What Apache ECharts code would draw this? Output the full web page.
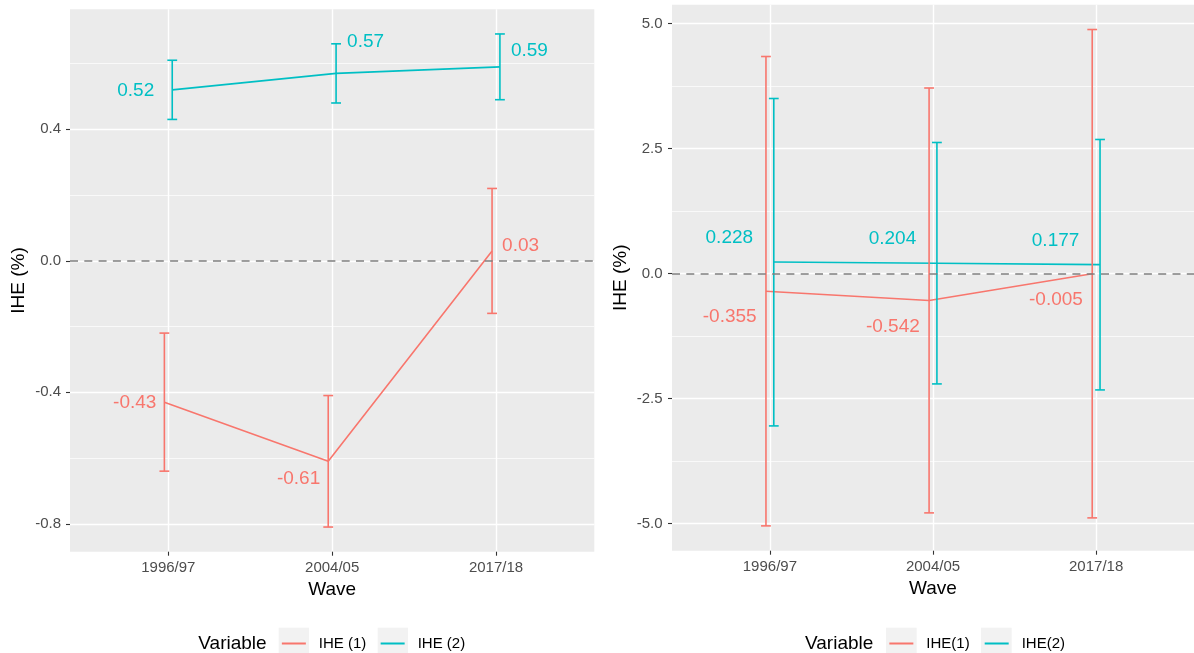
<!DOCTYPE html>
<html>
<head>
<meta charset="utf-8">
<script src="https://cdn.jsdelivr.net/npm/echarts@6/dist/echarts.min.js"></script>
<style>
html,body{margin:0;padding:0;background:#fff;}
#chart{width:1194px;height:653px;}
</style>
</head>
<body>
<div id="chart"></div>
<script>
// ---------- data ----------
const waves = ['1996/97', '2004/05', '2017/18'];

// left panel
const leftIHE1Mean = [-0.43, -0.61, 0.03];
const leftIHE1Lo   = [-0.64, -0.81, -0.16];
const leftIHE1Hi   = [-0.22, -0.41, 0.22];
const leftIHE2Mean = [0.52, 0.57, 0.59];
const leftIHE2Lo   = [0.43, 0.48, 0.49];
const leftIHE2Hi   = [0.61, 0.66, 0.69];
const leftYTicks   = [-0.8, -0.4, 0.0, 0.4];
const leftYMinor   = [-0.6, -0.2, 0.2, 0.6];

// right panel
const rightIHE1Mean = [-0.355, -0.542, -0.005];
const rightIHE1Lo   = [-5.05, -4.79, -4.89];
const rightIHE1Hi   = [4.34, 3.71, 4.88];
const rightIHE2Mean = [0.228, 0.204, 0.177];
const rightIHE2Lo   = [-3.05, -2.21, -2.33];
const rightIHE2Hi   = [3.50, 2.62, 2.68];
const rightYTicks   = [-5.0, -2.5, 0.0, 2.5, 5.0];
const rightYMinor   = [-3.75, -1.25, 1.25, 3.75];

const xTicks = [1, 2, 3];

// ---------- style ----------
const RED = '#F8766D', TEAL = '#00BFC4';
const FONT = "'Liberation Sans', Arial, sans-serif";
const DODGE = 0.024, CAP = 0.03;
const LW = 1.6;

// label placement (pixel offsets from the mean point)
const leftIHE1Lab = [{a:'right',dx:-8,dy:1},{a:'right',dx:-8,dy:17.6},{a:'left',dx:10,dy:-5.4}];
const leftIHE2Lab = [{a:'right',dx:-18,dy:1},{a:'left',dx:11,dy:-31.6},{a:'left',dx:11,dy:-15.6}];
const rightIHE1Lab = [{a:'right',dx:-9.3,dy:26},{a:'right',dx:-9.3,dy:26},{a:'right',dx:-9.3,dy:26}];
const rightIHE2Lab = [{a:'right',dx:-20.7,dy:-24},{a:'right',dx:-20.7,dy:-24},{a:'right',dx:-20.7,dy:-24}];

function expandRange(lo, hi) {
  const mn = Math.min.apply(null, lo), mx = Math.max.apply(null, hi);
  const r = mx - mn;
  return [mn - 0.05 * r, mx + 0.05 * r];
}
const leftRange = expandRange(leftIHE1Lo.concat(leftIHE2Lo), leftIHE1Hi.concat(leftIHE2Hi));
const rightRange = expandRange(rightIHE1Lo.concat(rightIHE2Lo), rightIHE1Hi.concat(rightIHE2Hi));

function xAxis(gridIndex) {
  return {
    type: 'value', gridIndex, min: 0.4, max: 3.6, position: 'bottom',
    name: 'Wave', nameLocation: 'middle', nameGap: 27,
    nameTextStyle: {color: '#000', fontSize: 19, fontFamily: FONT},
    axisLine: {show: false, onZero: false},
    axisTick: {show: true, length: 4, customValues: xTicks, lineStyle: {color: '#333333', width: 1.1}},
    axisLabel: {customValues: xTicks, formatter: v => waves[Math.round(v) - 1], color: '#4D4D4D',
      fontSize: 15, fontFamily: FONT, margin: 9},
    splitLine: {show: true, lineStyle: {color: '#FFFFFF', width: 1.4}}
  };
}
function yAxis(gridIndex, range, ticks, margin) {
  return {
    type: 'value', gridIndex, min: range[0], max: range[1], position: 'left',
    name: 'IHE (%)', nameLocation: 'middle', nameGap: 42,
    nameTextStyle: {color: '#000', fontSize: 19, fontFamily: FONT},
    axisLine: {show: false, onZero: false},
    axisTick: {show: true, length: 4, customValues: ticks, lineStyle: {color: '#333333', width: 1.1}},
    axisLabel: {customValues: ticks, formatter: v => v.toFixed(1), color: '#4D4D4D',
      fontSize: 15, fontFamily: FONT, margin: margin},
    splitLine: {show: true, lineStyle: {color: '#FFFFFF', width: 1.4}}
  };
}
function minorYAxis(gridIndex, range, minor) {
  return {
    type: 'value', gridIndex, min: range[0], max: range[1], position: 'left',
    axisLine: {show: false, onZero: false},
    axisTick: {show: false, customValues: minor},
    axisLabel: {show: false, customValues: minor},
    splitLine: {show: true, lineStyle: {color: '#FFFFFF', width: 0.7}}
  };
}

function lineSeries(name, xi, yi, mean, off, color, withZero) {
  const s = {
    name, type: 'line', xAxisIndex: xi, yAxisIndex: yi,
    data: mean.map((m, i) => [xTicks[i] + off, m]),
    symbol: 'none', color: color,
    lineStyle: {color: color, width: LW},
    itemStyle: {color: color},
    z: 3
  };
  if (withZero) {
    s.markLine = {
      silent: true, symbol: 'none', label: {show: false},
      lineStyle: {type: [8, 6.3], color: '#7F7F7F', width: 1.6},
      data: [{yAxis: 0}]
    };
  }
  return s;
}

function errSeries(name, xi, yi, mean, lo, hi, off, color, labStyles, digits) {
  return {
    name, type: 'custom', xAxisIndex: xi, yAxisIndex: yi,
    data: mean.map((m, i) => [xTicks[i] + off, m, lo[i], hi[i]]),
    encode: {x: 0, y: [1, 2, 3]},
    z: 4,
    renderItem: function (params, api) {
      const x = api.value(0), m = api.value(1), l = api.value(2), h = api.value(3);
      const pL = api.coord([x, l]), pH = api.coord([x, h]), pM = api.coord([x, m]);
      const cl = api.coord([x - CAP, l]), cr = api.coord([x + CAP, l]);
      const hl = api.coord([x - CAP, h]), hr = api.coord([x + CAP, h]);
      const st = {stroke: color, lineWidth: LW};
      const ls = labStyles[params.dataIndex];
      return {
        type: 'group',
        children: [
          {type: 'line', shape: {x1: pL[0], y1: pL[1], x2: pH[0], y2: pH[1]}, style: st},
          {type: 'line', shape: {x1: cl[0], y1: cl[1], x2: cr[0], y2: cr[1]}, style: st},
          {type: 'line', shape: {x1: hl[0], y1: hl[1], x2: hr[0], y2: hr[1]}, style: st},
          {type: 'text', x: pM[0] + ls.dx, y: pM[1] + ls.dy,
            style: {text: mean[params.dataIndex].toFixed(digits), fill: color, fontSize: 19,
              fontFamily: FONT, align: ls.a, verticalAlign: 'middle'}}
        ]
      };
    }
  };
}

function legend(names, left, gap) {
  return {
    data: names, left: left, top: 636, padding: 0, orient: 'horizontal',
    icon: 'rect', itemWidth: 24, itemHeight: 2, itemGap: gap, selectedMode: false, z: 10,
    formatter: n => '{g|}' + n,
    textStyle: {color: '#000', fontSize: 15, fontFamily: FONT, rich: {g: {width: 8}}}
  };
}

const chart = echarts.init(document.getElementById('chart'), null, {renderer: 'canvas'});
chart.setOption({
  animation: false,
  backgroundColor: '#FFFFFF',
  grid: [
    {left: 70, top: 9.3, width: 524.3, height: 542.4, show: true, backgroundColor: '#EBEBEB', borderWidth: 0},
    {left: 672, top: 4.7, width: 528, height: 546, show: true, backgroundColor: '#EBEBEB', borderWidth: 0}
  ],
  xAxis: [xAxis(0), xAxis(1)],
  yAxis: [
    yAxis(0, leftRange, leftYTicks, 9),
    yAxis(1, rightRange, rightYTicks, 9.5),
    minorYAxis(0, leftRange, leftYMinor),
    minorYAxis(1, rightRange, rightYMinor)
  ],
  legend: [
    legend(['IHE (1)', 'IHE (2)'], 281.85, 14.3),
    legend(['IHE(1)', 'IHE(2)'], 889.35, 15)
  ],
  graphic: [
    {type: 'rect', z: 0, shape: {x: 278.7, y: 627.7, width: 30.3, height: 30}, style: {fill: '#F2F2F2'}},
    {type: 'rect', z: 0, shape: {x: 377.7, y: 627.7, width: 30.3, height: 30}, style: {fill: '#F2F2F2'}},
    {type: 'rect', z: 0, shape: {x: 886, y: 627.7, width: 30.7, height: 30}, style: {fill: '#F2F2F2'}},
    {type: 'rect', z: 0, shape: {x: 981, y: 627.7, width: 30.7, height: 30}, style: {fill: '#F2F2F2'}},
    {type: 'text', z: 0, style: {text: 'Variable', x: 198.3, y: 644, fill: '#000', fontSize: 19, fontFamily: FONT, verticalAlign: 'middle'}},
    {type: 'text', z: 0, style: {text: 'Variable', x: 805, y: 644, fill: '#000', fontSize: 19, fontFamily: FONT, verticalAlign: 'middle'}}
  ],
  series: [
    lineSeries('IHE (1)', 0, 0, leftIHE1Mean, -DODGE, RED, true),
    lineSeries('IHE (2)', 0, 0, leftIHE2Mean, DODGE, TEAL, false),
    errSeries('IHE (1) CI', 0, 0, leftIHE1Mean, leftIHE1Lo, leftIHE1Hi, -DODGE, RED, leftIHE1Lab, 2),
    errSeries('IHE (2) CI', 0, 0, leftIHE2Mean, leftIHE2Lo, leftIHE2Hi, DODGE, TEAL, leftIHE2Lab, 2),
    lineSeries('IHE(1)', 1, 1, rightIHE1Mean, -DODGE, RED, true),
    lineSeries('IHE(2)', 1, 1, rightIHE2Mean, DODGE, TEAL, false),
    errSeries('IHE(1) CI', 1, 1, rightIHE1Mean, rightIHE1Lo, rightIHE1Hi, -DODGE, RED, rightIHE1Lab, 3),
    errSeries('IHE(2) CI', 1, 1, rightIHE2Mean, rightIHE2Lo, rightIHE2Hi, DODGE, TEAL, rightIHE2Lab, 3)
  ]
});
</script>
</body>
</html>
